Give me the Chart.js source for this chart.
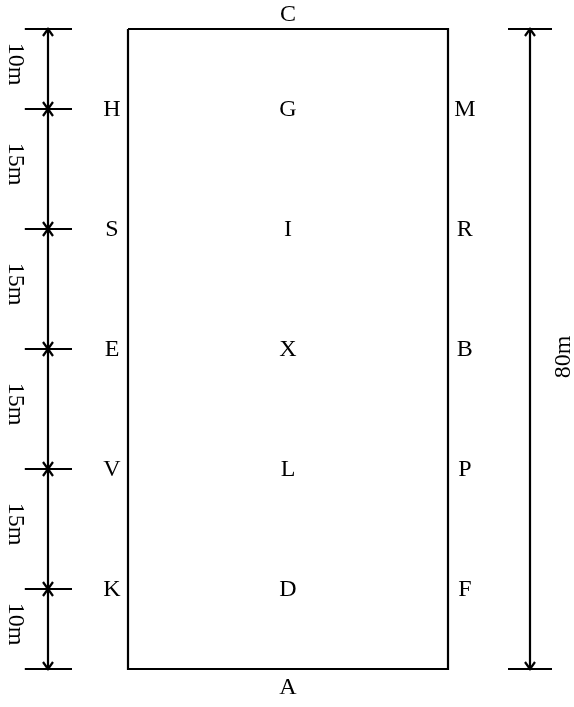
<!DOCTYPE html>
<html>
<head>
<meta charset="utf-8">
<script src="https://cdn.jsdelivr.net/npm/chart.js@4.4.1/dist/chart.umd.min.js"></script>
<style>
html,body{margin:0;padding:0;background:#fff;}
#wrap{width:574px;height:707px;position:relative;}
</style>
</head>
<body>
<div id="wrap"><canvas id="c" width="574" height="707"></canvas></div>
<script>
// ---- data (metres) ----
const arenaWidth = 40;
const arenaLength = 80;
const markerDistances = [10, 25, 40, 55, 70];
const leftLetters = ['H', 'S', 'E', 'V', 'K'];
const centerLetters = ['G', 'I', 'X', 'L', 'D'];
const rightLetters = ['M', 'R', 'B', 'P', 'F'];
const topLetter = 'C';
const bottomLetter = 'A';
const segmentLabels = ['10m', '15m', '15m', '15m', '15m', '10m'];
const totalLabel = '80m';

// ---- layout constants ----
const LEFT_DIM_X = -10, LEFT_TICK = [-12.9, -7.0];
const RIGHT_DIM_X = 50.25, RIGHT_TICK = [47.5, 53.0];

const tickPositions = [0, ...markerDistances, arenaLength];

function seg(x1, y1, x2, y2) {
  return {data: [{x: x1, y: y1}, {x: x2, y: y2}], showLine: true, borderColor: '#000',
          borderWidth: 2.2, pointRadius: 0, fill: false, tension: 0};
}
const datasets = [];
datasets.push({data: [{x:0,y:0},{x:arenaWidth,y:0},{x:arenaWidth,y:arenaLength},{x:0,y:arenaLength},{x:0,y:0}],
  showLine: true, borderColor: '#000', borderWidth: 2.2, pointRadius: 0, fill: false, tension: 0, borderJoinStyle: 'miter'});
datasets.push(seg(LEFT_DIM_X, 0, LEFT_DIM_X, arenaLength));
tickPositions.forEach(t => datasets.push(seg(LEFT_TICK[0], t, LEFT_TICK[1], t)));
datasets.push(seg(RIGHT_DIM_X, 0, RIGHT_DIM_X, arenaLength));
[0, arenaLength].forEach(t => datasets.push(seg(RIGHT_TICK[0], t, RIGHT_TICK[1], t)));

const labelPlugin = {
  id: 'labels',
  afterDatasetsDraw(chart) {
    const ctx = chart.ctx, xs = chart.scales.x, ys = chart.scales.y;
    const px = v => xs.getPixelForValue(v), py = v => ys.getPixelForValue(v);
    ctx.save();
    ctx.fillStyle = '#000';
    ctx.font = '24px "Liberation Serif", "Times New Roman", serif';
    ctx.textAlign = 'center';
    ctx.textBaseline = 'middle';
    markerDistances.forEach((d, i) => {
      ctx.fillText(leftLetters[i], px(-2), py(d) + 1);
      ctx.fillText(centerLetters[i], px(arenaWidth / 2), py(d) + 1);
      ctx.fillText(rightLetters[i], px(arenaWidth + 2.1), py(d) + 1);
    });
    ctx.fillText(topLetter, px(arenaWidth / 2), py(-1.75));
    ctx.fillText(bottomLetter, px(arenaWidth / 2), py(arenaLength + 2.4));
    // segment labels (rotated clockwise)
    for (let i = 0; i < segmentLabels.length; i++) {
      const mid = (tickPositions[i] + tickPositions[i + 1]) / 2;
      ctx.save();
      ctx.translate(px(-14.1), py(mid) - 5);
      ctx.rotate(Math.PI / 2);
      ctx.fillText(segmentLabels[i], 0, 0);
      ctx.restore();
    }
    ctx.save();
    ctx.translate(px(54.5), py(arenaLength / 2) + 8);
    ctx.rotate(-Math.PI / 2);
    ctx.fillText(totalLabel, 0, 0);
    ctx.restore();
    // arrowheads
    ctx.strokeStyle = '#000';
    ctx.lineWidth = 2.2;
    function arrow(x, y, dir) { // dir -1 points up, +1 points down
      ctx.beginPath();
      ctx.moveTo(x - 5, y - dir * 7);
      ctx.lineTo(x, y);
      ctx.lineTo(x + 5, y - dir * 7);
      ctx.stroke();
    }
    for (let i = 0; i < tickPositions.length - 1; i++) {
      arrow(px(LEFT_DIM_X), py(tickPositions[i]), -1);
      arrow(px(LEFT_DIM_X), py(tickPositions[i + 1]), 1);
    }
    arrow(px(RIGHT_DIM_X), py(0), -1);
    arrow(px(RIGHT_DIM_X), py(arenaLength), 1);
    ctx.restore();
  }
};

new Chart(document.getElementById('c'), {
  type: 'scatter',
  data: {datasets},
  options: {
    responsive: false,
    animation: false,
    devicePixelRatio: 1,
    layout: {padding: 0},
    plugins: {legend: {display: false}, tooltip: {enabled: false}},
    scales: {
      x: {type: 'linear', display: false, min: -16, max: 55.75},
      y: {type: 'linear', display: false, reverse: true, min: -3.625, max: 84.75}
    }
  },
  plugins: [labelPlugin]
});
</script>
</body>
</html>
